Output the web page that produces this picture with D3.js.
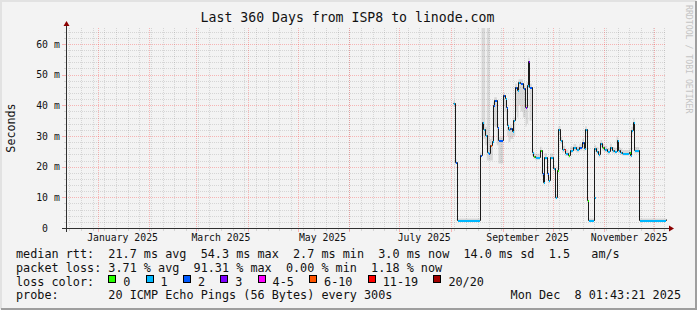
<!DOCTYPE html>
<html>
<head>
<meta charset="utf-8">
<script src="https://cdn.jsdelivr.net/npm/d3@7"></script>
<style>
	body { margin: 0; background: #f3f3f3; }
	svg text { font-family: "DejaVu Sans Mono", monospace; white-space: pre; }
</style>
</head>
<body>
<svg id="chart" width="697" height="310"></svg>
<script>
// smokeping style latency graph, last 360 days

var times = [
	"2025-08-02 13:00","2025-08-03 10:00","2025-08-04 09:00","2025-08-18 10:00","2025-08-19 09:00",
	"2025-08-20 13:00","2025-08-21 14:00","2025-08-22 14:00","2025-08-23 13:00","2025-08-24 07:00",
	"2025-08-25 09:00","2025-08-26 05:00","2025-08-27 00:00","2025-08-28 14:00","2025-08-29 13:00",
	"2025-09-01 10:00","2025-09-02 05:00","2025-09-03 00:00","2025-09-03 19:00","2025-09-04 13:00",
	"2025-09-05 18:00","2025-09-06 14:00","2025-09-07 10:00","2025-09-08 14:00","2025-09-09 14:00",
	"2025-09-10 13:00","2025-09-11 18:00","2025-09-13 05:00","2025-09-14 18:00","2025-09-15 09:00",
	"2025-09-16 10:00","2025-09-17 04:00","2025-09-18 14:00","2025-09-19 13:00","2025-09-20 14:00",
	"2025-09-23 10:00","2025-09-24 09:00","2025-09-25 10:00","2025-09-26 04:00","2025-09-27 14:00",
	"2025-09-28 13:00","2025-09-29 10:00","2025-10-01 13:00","2025-10-02 14:00","2025-10-03 19:00",
	"2025-10-04 13:00","2025-10-05 18:00","2025-10-06 19:00","2025-10-07 17:00","2025-10-08 14:00",
	"2025-10-10 13:00","2025-10-11 14:00","2025-10-13 13:00","2025-10-15 05:00","2025-10-17 00:00",
	"2025-10-18 23:00","2025-10-19 19:00","2025-10-20 14:00","2025-10-21 14:00","2025-10-22 13:00",
	"2025-10-25 19:00","2025-10-26 04:00","2025-10-27 05:00","2025-10-28 13:00","2025-10-29 18:00",
	"2025-10-30 19:00","2025-11-01 00:00","2025-11-02 19:00","2025-11-04 10:00","2025-11-05 14:00",
	"2025-11-07 00:00","2025-11-08 09:00","2025-11-09 10:00","2025-11-10 14:00","2025-11-11 19:00",
	"2025-11-16 00:00","2025-11-16 18:00","2025-11-17 05:00","2025-11-18 10:00","2025-11-19 04:00",
	"2025-11-22 00:00","2025-12-08 01:00"
];

// median rtt in ms
var median = [
	40.6, 21.6, 2.7, 23.8, 34.7,
	32.2, 30.2, 24.9, 24.3, 27.1,
	28.5, 40.1, 41.7, 33.0, 28.7,
	43.4, 42.3, 39.5, 33.6, 32.2,
	32.6, 31.6, 35.2, 46.1, 45.0,
	47.6, 47.4, 45.5, 39.5, 46.6,
	54.3, 46.0, 24.9, 23.5, 23.2,
	25.4, 17.8, 15.1, 23.3, 17.8,
	15.6, 23.3, 19.5, 10.2, 19.0,
	32.2, 28.7, 25.6, 25.8, 24.5,
	23.8, 25.5, 26.3, 25.6, 26.4,
	28.0, 26.0, 32.2, 9.1, 2.7,
	10.2, 26.0, 25.2, 24.0, 27.6,
	26.3, 25.8, 25.0, 26.4, 25.4,
	25.2, 28.7, 25.4, 24.9, 24.5,
	24.8, 23.8, 32.0, 34.7, 25.4,
	2.7, 3.0
];

// index into lossLabels / lossColors
var loss = [
	1,2,1,2,1,
	1,1,1,2,5,
	1,2,2,2,2,
	2,1,2,1,1,
	2,1,1,2,1,
	1,2,2,3,1,
	3,2,1,0,1,
	0,2,1,1,2,
	1,1,1,1,0,
	1,1,1,6,1,
	0,1,1,1,2,
	2,1,1,0,1,
	1,1,1,1,1,
	0,1,1,1,1,
	1,1,1,1,1,
	0,1,1,1,1,
	1,1
];

// smoke spread (lowest / highest ping) in ms
var smokeLo = [
	39.5, 20.8, 2.5, 23.0, 30.0,
	29.0, 27.0, 22.0, 22.0, 22.0,
	22.0, 35.0, 33.0, 27.0, 21.0,
	40.0, 38.0, 35.0, 30.0, 28.0,
	29.0, 29.0, 30.0, 38.0, 36.0,
	40.0, 38.0, 36.0, 33.0, 34.0,
	46.0, 35.0, 23.5, 22.5, 22.2,
	24.2, 16.8, 14.2, 22.2, 16.8,
	14.6, 22.3, 18.5, 9.4, 18.0,
	30.5, 27.5, 24.5, 24.8, 23.5,
	22.8, 24.5, 25.2, 24.6, 25.3,
	26.8, 25.0, 30.8, 8.3, 2.5,
	9.4, 24.8, 24.1, 23.0, 26.4,
	25.2, 24.8, 24.0, 25.3, 24.4,
	24.2, 27.5, 24.4, 23.9, 23.6,
	23.8, 22.9, 30.8, 33.5, 24.4,
	2.5, 2.8
];
var smokeHi = [
	41.5, 22.5, 3.1, 24.6, 65.2,
	65.2, 33.0, 65.2, 65.2, 29.0,
	30.0, 41.0, 42.6, 34.0, 29.6,
	44.2, 43.2, 40.5, 34.5, 33.0,
	33.5, 32.5, 36.0, 47.0, 46.0,
	48.5, 48.5, 46.5, 40.5, 47.5,
	55.5, 47.0, 26.0, 24.5, 24.2,
	26.5, 18.8, 16.2, 24.4, 18.8,
	16.6, 24.3, 20.5, 11.0, 20.0,
	33.2, 29.7, 26.7, 26.8, 25.5,
	24.8, 26.5, 27.4, 26.6, 27.5,
	29.0, 27.0, 33.2, 9.9, 3.1,
	11.0, 27.0, 26.3, 25.0, 28.7,
	27.3, 26.8, 26.0, 27.5, 26.4,
	26.2, 29.8, 26.4, 25.9, 25.4,
	25.8, 24.8, 33.0, 35.8, 26.4,
	3.1, 3.2
];

var yTicks = [0, 10, 20, 30, 40, 50, 60];
var yTickLabels = [" 0", "10 m", "20 m", "30 m", "40 m", "50 m", "60 m"];
var monthLabels = ["January 2025", "March 2025", "May 2025", "July 2025", "September 2025", "November 2025"];
var monthLabelDates = ["2025-01-01 00:00", "2025-03-01 00:00", "2025-05-01 00:00", "2025-07-01 00:00", "2025-09-01 00:00", "2025-11-01 00:00"];
var lossLabels = ["0", "1", "2", "3", "4-5", "6-10", "11-19", "20/20"];
var lossColors = ["#26ff00", "#00b8ff", "#0059ff", "#7e00ff", "#ff00ff", "#ff5500", "#ff0000", "#a10000"];

var title = "Last 360 Days from ISP8 to linode.com";
var legendRtt = "median rtt:  21.7 ms avg  54.3 ms max  2.7 ms min  3.0 ms now  14.0 ms sd  1.5   am/s";
var legendLoss = "packet loss: 3.71 % avg  91.31 % max  0.00 % min  1.18 % now";
var legendProbe = "probe:       20 ICMP Echo Pings (56 Bytes) every 300s";
var stamp = "Mon Dec  8 01:43:21 2025";

var W = 697, H = 310;
var plotL = 66, plotR = 666, plotT = 28, plotB = 228;
var minorColor = "rgba(95,95,95,0.2)";
var majorColor = "rgba(255,0,0,0.26)";

var parse = d3.timeParse("%Y-%m-%d %H:%M");
var tEnd = parse("2025-12-08 01:43");
var tStart = d3.timeDay.offset(tEnd, -360);

var x = d3.scaleTime().domain([tStart, tEnd]).range([plotL, plotR]);
var y = d3.scaleLinear().domain([0, 65.2]).range([plotB, plotT]);

var data = times.map(function(t, i) {
	return { t: parse(t), v: median[i], loss: loss[i], lo: smokeLo[i], hi: smokeHi[i] };
});

var svg = d3.select("#chart");

// background + frame
svg.append("rect").attr("width", W).attr("height", H).attr("fill", "#f3f3f3");
svg.append("path").attr("d", "M1,309V1H696").attr("fill", "none").attr("stroke", "#e2e2e2").attr("stroke-width", 2);
svg.append("path").attr("d", "M1,309H696V1").attr("fill", "none").attr("stroke", "#9e9e9e").attr("stroke-width", 2);

var px = function(v) { return Math.round(v) + 0.5; };

// smoke
var smoke = d3.area()
	.curve(d3.curveStepAfter)
	.x(function(d) { return x(d.t); })
	.y0(function(d) { return y(d.lo); })
	.y1(function(d) { return y(d.hi); });
svg.append("path")
	.datum(data)
	.attr("d", smoke)
	.attr("fill", "#d8d8d8");

// grid
var grid = svg.append("g").attr("fill", "none").attr("stroke-dasharray", "1,1");
var minorY = d3.range(2, 65, 2).filter(function(v) { return v % 10 != 0; });
grid.selectAll("line.minor-y")
	.data(minorY).enter()
	.append("line")
		.attr("x1", plotL).attr("x2", plotR)
		.attr("y1", function(d) { return px(y(d)); })
		.attr("y2", function(d) { return px(y(d)); })
		.attr("stroke", minorColor);
var weeks = d3.timeSunday.range(tStart, tEnd);
grid.selectAll("line.minor-x")
	.data(weeks).enter()
	.append("line")
		.attr("y1", plotT).attr("y2", plotB)
		.attr("x1", function(d) { return px(x(d)); })
		.attr("x2", function(d) { return px(x(d)); })
		.attr("stroke", minorColor);
grid.selectAll("line.major-y")
	.data(yTicks.slice(1)).enter()
	.append("line")
		.attr("x1", plotL).attr("x2", plotR)
		.attr("y1", function(d) { return px(y(d)); })
		.attr("y2", function(d) { return px(y(d)); })
		.attr("stroke", majorColor);
var months = d3.timeMonth.range(d3.timeMonth.ceil(tStart), tEnd);
grid.selectAll("line.major-x")
	.data(months).enter()
	.append("line")
		.attr("y1", plotT).attr("y2", plotB)
		.attr("x1", function(d) { return px(x(d)); })
		.attr("x2", function(d) { return px(x(d)); })
		.attr("stroke", majorColor);

// small ticks outside the plot
var ticks = svg.append("g");
ticks.selectAll("line.ty")
	.data(minorY.concat(yTicks.slice(1))).enter()
	.append("line")
		.attr("x1", function(d) { return d % 10 == 0 ? plotL - 4 : plotL - 2; })
		.attr("x2", plotL)
		.attr("y1", function(d) { return px(y(d)); })
		.attr("y2", function(d) { return px(y(d)); })
		.attr("stroke", function(d) { return d % 10 == 0 ? majorColor : minorColor; });
ticks.selectAll("line.tx")
	.data(weeks).enter()
	.append("line")
		.attr("y1", plotB).attr("y2", plotB + 3)
		.attr("x1", function(d) { return px(x(d)); })
		.attr("x2", function(d) { return px(x(d)); })
		.attr("stroke", minorColor);
ticks.selectAll("line.tm")
	.data(months).enter()
	.append("line")
		.attr("y1", plotB).attr("y2", plotB + 4)
		.attr("x1", function(d) { return px(x(d)); })
		.attr("x2", function(d) { return px(x(d)); })
		.attr("stroke", majorColor);

// median line, black, then loss colour on each step
var medianLine = d3.line()
	.curve(d3.curveStepAfter)
	.x(function(d) { return px(x(d.t)); })
	.y(function(d) { return px(y(d.v)); });
svg.append("path")
	.datum(data)
	.attr("d", medianLine)
	.attr("fill", "none")
	.attr("stroke", "#1a1a1a")
	.attr("stroke-width", 1);

svg.append("g").selectAll("rect")
	.data(data.slice(0, -1)).enter()
	.append("rect")
		.attr("x", function(d) { return px(x(d.t)) + 0.5; })
		.attr("width", function(d, i) { return Math.max(1, px(x(data[i + 1].t)) - px(x(d.t)) - 1); })
		.attr("y", function(d) { return Math.round(y(d.v)); })
		.attr("height", 2)
		.attr("fill", function(d) { return lossColors[d.loss]; });

// axes
svg.append("line")
	.attr("x1", plotL - 4).attr("x2", plotR + 3)
	.attr("y1", plotB + 0.5).attr("y2", plotB + 0.5)
	.attr("stroke", "#303030");
svg.append("line")
	.attr("x1", plotL + 0.5).attr("x2", plotL + 0.5)
	.attr("y1", plotB + 4).attr("y2", plotT - 3)
	.attr("stroke", "#303030");
svg.append("path")
	.attr("d", "M" + (plotL - 2.5) + "," + (plotT - 2) + "L" + (plotL + 3.5) + "," + (plotT - 2) + "L" + (plotL + 0.5) + "," + (plotT - 7) + "Z")
	.attr("fill", "#8b0000");
svg.append("path")
	.attr("d", "M" + (plotR + 3) + "," + (plotB - 2.5) + "L" + (plotR + 3) + "," + (plotB + 3.5) + "L" + (plotR + 8) + "," + (plotB + 0.5) + "Z")
	.attr("fill", "#8b0000");

// axis labels
svg.append("g").selectAll("text")
	.data(yTicks).enter()
	.append("text")
		.attr("x", 36.2)
		.attr("y", function(d) { return y(d) + 3.6; })
		.attr("font-size", "9.8px")
		.attr("fill", "#111")
		.text(function(d, i) { return yTickLabels[i]; });

svg.append("g").selectAll("text")
	.data(monthLabelDates).enter()
	.append("text")
		.attr("x", function(d) { return x(d3.timeDay.offset(parse(d), 15)); })
		.attr("y", 241)
		.attr("text-anchor", "middle")
		.attr("font-size", "9.8px")
		.attr("fill", "#111")
		.text(function(d, i) { return monthLabels[i]; });

svg.append("text")
	.attr("transform", "translate(15,128) rotate(-90)")
	.attr("text-anchor", "middle")
	.attr("font-size", "11.7px")
	.attr("fill", "#111")
	.text("Seconds");

svg.append("text")
	.attr("x", 347.5).attr("y", 22)
	.attr("text-anchor", "middle")
	.attr("font-size", "13.2px")
	.attr("fill", "#111")
	.text(title);

svg.append("text")
	.attr("transform", "translate(685.5,5) rotate(90)")
	.attr("font-size", "8.2px")
	.attr("fill", "#c4c4c4")
	.text("RRDTOOL / TOBI OETIKER");

// legend
var legendSize = "11.8px";
var lx = 16;
var addLine = function(txt, ly) {
	return svg.append("text")
		.attr("x", lx).attr("y", ly)
		.attr("font-size", legendSize)
		.attr("fill", "#111")
		.text(txt);
};
addLine(legendRtt, 258);
addLine(legendLoss, 271.7);
addLine("loss color:", 285.5);
addLine(legendProbe, 299);
svg.append("text")
	.attr("x", 681).attr("y", 299)
	.attr("text-anchor", "end")
	.attr("font-size", legendSize)
	.attr("fill", "#111")
	.text(stamp);

var boxX = 108.3;
lossLabels.forEach(function(lbl, i) {
	svg.append("rect")
		.attr("x", Math.round(boxX) + 0.5).attr("y", 275.5)
		.attr("width", 7).attr("height", 7)
		.attr("fill", lossColors[i])
		.attr("stroke", "#000");
	var t = svg.append("text")
		.attr("x", boxX + 15).attr("y", 285.5)
		.attr("font-size", legendSize)
		.attr("fill", "#111")
		.text(lbl);
	boxX = boxX + 15 + t.node().getComputedTextLength() + 15.2;
});
</script>
</body>
</html>
